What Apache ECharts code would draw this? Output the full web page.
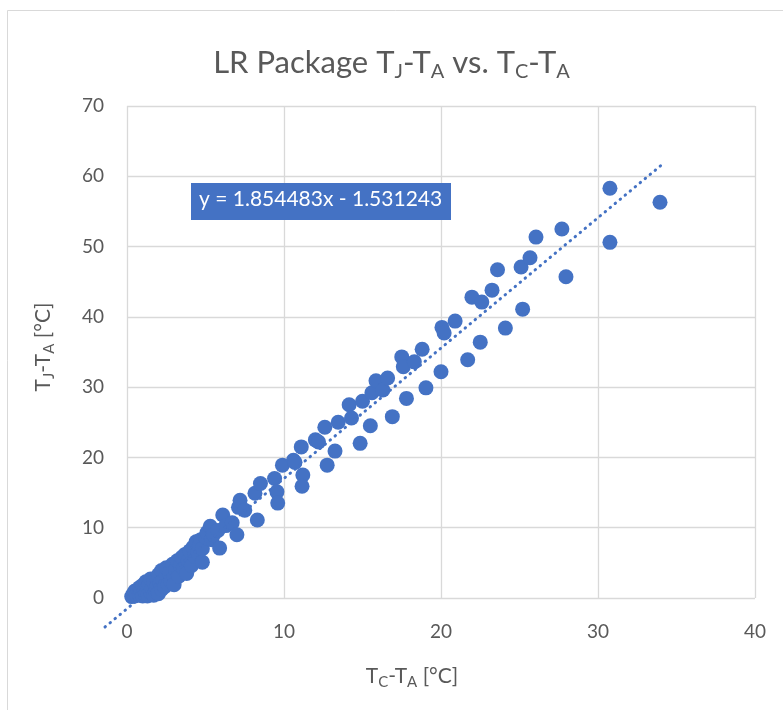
<!DOCTYPE html>
<html>
<head>
<meta charset="utf-8">
<script src="https://cdn.jsdelivr.net/npm/echarts@6/dist/echarts.min.js"></script>
<style>html,body{margin:0;padding:0;background:#fff}#c{width:783px;height:710px}</style>
</head>
<body>
<div id="c"></div>
<script>
// x = TC-TA [°C], y = TJ-TA [°C]
var tcTa = [
  0.3,0.4,0.5,0.5,0.6,0.7,0.8,0.8,0.9,1.0,1.0,1.1,1.2,1.2,1.3,1.3,1.4,1.5,1.5,1.6,1.7,1.7,1.8,1.9,1.9,2.0,2.0,2.1,2.2,2.2,2.3,2.4,2.5,2.5,2.6,2.7,2.8,2.9,3.0,3.0,3.1,3.2,3.3,3.4,3.5,3.6,3.7,3.8,3.9,4.0,4.1,4.2,4.3,4.4,4.5,4.6,4.7,4.8,4.8,5.0,5.1,5.3,5.4,5.5,5.8,5.9,6.1,6.3,6.7,7.0,7.1,7.2,7.5,8.15,8.3,8.5,9.4,9.55,9.6,9.9,10.6,10.7,11.1,11.2,11.15,12.0,12.2,12.6,12.75,13.25,13.45,14.15,14.3,14.85,15.0,15.5,15.6,15.86,16.3,16.6,16.9,17.5,17.6,17.8,18.3,18.8,19.04,20.0,20.06,20.2,20.9,21.7,21.97,22.5,22.6,23.25,23.6,24.1,25.1,25.2,25.67,26.05,27.7,27.96,30.76,30.76,33.95
];
var tjTa = [
  0.2,0.6,0.3,1.0,0.5,1.2,0.4,1.5,0.9,0.3,1.8,1.1,0.6,2.3,1.5,0.3,2.0,2.7,0.8,1.4,2.3,0.4,1.0,2.8,1.6,3.3,0.6,2.1,1.2,3.9,2.5,1.6,3.2,4.3,2.0,3.6,2.4,4.8,3.0,1.9,4.0,5.3,3.1,4.6,5.8,4.2,6.2,3.5,5.3,6.7,4.6,7.2,6.0,8.0,6.4,7.5,8.3,5.1,7.0,8.7,9.3,10.2,8.3,9.0,9.6,7.1,11.8,10.3,10.7,9.0,12.9,13.9,12.5,14.9,11.1,16.3,17.0,15.1,13.5,18.9,19.6,19.3,21.5,17.5,15.9,22.5,22.2,24.3,18.9,20.9,25.0,27.5,25.6,22.0,28.0,24.5,29.2,30.9,29.6,31.3,25.8,34.3,32.9,28.4,33.6,35.4,29.9,32.2,38.5,37.7,39.4,33.9,42.8,36.4,42.1,43.8,46.7,38.4,47.1,41.1,48.4,51.35,52.5,45.7,58.3,50.6,56.3
];
var xTicks = [0,10,20,30,40];
var yTicks = [0,10,20,30,40,50,60,70];
var slope = 1.854483, intercept = -1.531243;
var trendX = [-1.4, 34.0];

var pts = tcTa.map(function(x,i){return [x, tjTa[i]];});
var trend = trendX.map(function(x){return [x, slope*x + intercept];});
var grey = '#595959';
var font = 'Lato, "Noto Sans", sans-serif';

// plot area: x 0..40 -> 127..755 px, y 0..70 -> 598..106 px
var pxX = (755-127)/40, pxY = (598-106)/70;

var chart = echarts.init(document.getElementById('c'));
chart.setOption({
  animation:false,
  backgroundColor:'#fff',
  title:{
    text:'LR Package T{s|J}-T{s|A} vs. T{s|C}-T{s|A}',
    left:'center', top:39,
    textStyle:{color:grey, fontSize:31, fontWeight:'normal', fontFamily:font, lineHeight:38,
      rich:{s:{fontSize:20, color:grey, fontFamily:font, verticalAlign:'bottom', lineHeight:24, padding:[14,0,0,0]}}}
  },
  grid:[
    {left:127, right:28, top:106, bottom:112},
    {left:127-2*pxX, right:28, top:106, bottom:112-10*pxY}
  ],
  xAxis:[{
    type:'value', min:0, max:40, interval:10, gridIndex:0,
    name:'T{s|C}-T{s|A} [°C]', nameLocation:'middle', nameGap:64,
    nameTextStyle:{color:grey, fontSize:21, fontFamily:font, lineHeight:28, padding:[0,58,0,0],
      rich:{s:{fontSize:15, color:grey, fontFamily:font, verticalAlign:'bottom', padding:[11,0,0,0]}}},
    axisLine:{show:false}, axisTick:{show:false},
    axisLabel:{color:grey, fontSize:19, fontFamily:font, margin:24},
    splitLine:{show:true, lineStyle:{color:'#d9d9d9', width:1.3}}
  },{
    type:'value', min:-2, max:40, gridIndex:1, show:false
  }],
  yAxis:[{
    type:'value', min:0, max:70, interval:10, gridIndex:0,
    name:'T{s|J}-T{s|A} [°C]', nameLocation:'middle', nameGap:70, nameRotate:90,
    nameTextStyle:{color:grey, fontSize:21, fontFamily:font, lineHeight:28, padding:[0,0,0,10],
      rich:{s:{fontSize:15, color:grey, fontFamily:font, verticalAlign:'bottom', padding:[11,0,0,0]}}},
    axisLine:{show:false}, axisTick:{show:false},
    axisLabel:{color:grey, fontSize:19, fontFamily:font, margin:23},
    splitLine:{show:true, lineStyle:{color:'#d9d9d9', width:1.3}}
  },{
    type:'value', min:-10, max:70, gridIndex:1, show:false
  }],
  series:[
    {type:'scatter', data:pts, symbolSize:15, z:2, xAxisIndex:0, yAxisIndex:0,
     itemStyle:{color:'#4472C4', opacity:1}},
    {type:'line', data:trend, symbol:'none', silent:true, z:3, xAxisIndex:1, yAxisIndex:1,
     lineStyle:{color:'#4472C4', width:3, type:[0.5,6], cap:'round'}}
  ],
  graphic:[
    {type:'rect', left:5, top:8, shape:{width:800, height:720}, style:{fill:'none', stroke:'#d9d9d9', lineWidth:1}, silent:true, z:-1},
    {type:'rect', left:191, top:183, shape:{width:260, height:37}, style:{fill:'#4472C4'}, z:10},
    {type:'text', left:199, top:189, style:{text:'y = 1.854483x - 1.531243', fill:'#fff', fontSize:21, fontFamily:font}, z:11}
  ]
});
</script>
</body>
</html>
